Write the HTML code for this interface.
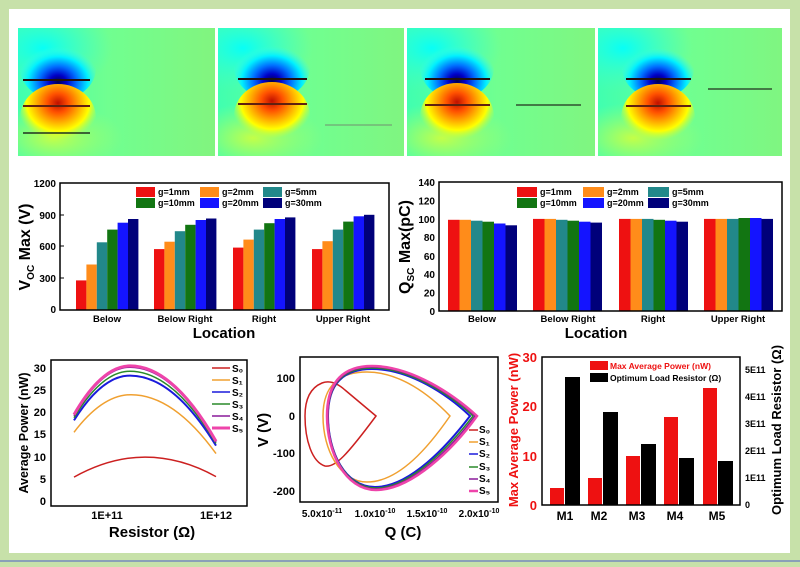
<!DOCTYPE html>
<html><head><meta charset="utf-8"><style>
html,body{margin:0;padding:0;background:#c7e1a9;}
svg{display:block;font-family:"Liberation Sans",Arial,sans-serif;font-weight:bold;}
</style></head><body>
<svg width="800" height="567" viewBox="0 0 800 567" xmlns="http://www.w3.org/2000/svg">
<defs>
<linearGradient id="bg" x1="0" y1="0" x2="1" y2="0">
<stop offset="0" stop-color="#40ffb0"/><stop offset="0.45" stop-color="#70ff90"/><stop offset="1" stop-color="#82f47e"/></linearGradient>
<radialGradient id="cy" cx="0.5" cy="0.5" r="0.5"><stop offset="0" stop-color="#00ffff" stop-opacity="0.9"/><stop offset="1" stop-color="#40ffd0" stop-opacity="0"/></radialGradient>
<radialGradient id="ye" cx="0.5" cy="0.5" r="0.5"><stop offset="0" stop-color="#e0ff30" stop-opacity="0.8"/><stop offset="1" stop-color="#b0ff60" stop-opacity="0"/></radialGradient>
<radialGradient id="bl" cx="0.5" cy="0.72" r="0.55"><stop offset="0" stop-color="#000050"/><stop offset="0.2" stop-color="#0000c8"/><stop offset="0.45" stop-color="#0070ff"/><stop offset="0.72" stop-color="#00f0ff"/><stop offset="1" stop-color="#40ffe0" stop-opacity="0"/></radialGradient>
<radialGradient id="rd" cx="0.5" cy="0.28" r="0.55"><stop offset="0" stop-color="#c01000"/><stop offset="0.25" stop-color="#ff5000"/><stop offset="0.5" stop-color="#ffa800"/><stop offset="0.75" stop-color="#ffff00"/><stop offset="1" stop-color="#c0ff40" stop-opacity="0"/></radialGradient>
<g id="hm">
<rect x="0" y="0" width="200" height="128" fill="url(#bg)"/>
<ellipse cx="25" cy="20" rx="70" ry="45" fill="url(#cy)"/>
<ellipse cx="35" cy="110" rx="70" ry="35" fill="url(#ye)"/>
</g>
</defs>
<rect x="9" y="9" width="781" height="544" fill="#ffffff"/>
<rect x="0" y="560" width="800" height="2" fill="#8aa0b8"/>

<!-- heatmaps -->
<svg x="18" y="28" width="197" height="128"><use href="#hm"/>
<ellipse cx="40" cy="40" rx="38" ry="32" fill="url(#bl)"/><ellipse cx="40" cy="90" rx="38" ry="34" fill="url(#rd)"/>
<line x1="5" y1="52" x2="72" y2="52" stroke="#201010" stroke-width="2"/><line x1="5" y1="78" x2="72" y2="78" stroke="#602010" stroke-width="2"/><line x1="5" y1="105" x2="72" y2="105" stroke="#203020" stroke-width="1.5"/></svg>
<svg x="218" y="28" width="186" height="128"><use href="#hm"/>
<ellipse cx="54" cy="39" rx="38" ry="32" fill="url(#bl)"/><ellipse cx="54" cy="88" rx="38" ry="34" fill="url(#rd)"/>
<line x1="20" y1="51" x2="89" y2="51" stroke="#201010" stroke-width="2"/><line x1="20" y1="76" x2="89" y2="76" stroke="#602010" stroke-width="2"/><line x1="107" y1="97" x2="174" y2="97" stroke="#709070" stroke-width="1"/></svg>
<svg x="407" y="28" width="188" height="128"><use href="#hm"/>
<ellipse cx="50" cy="39" rx="37" ry="32" fill="url(#bl)"/><ellipse cx="50" cy="89" rx="37" ry="34" fill="url(#rd)"/>
<line x1="18" y1="51" x2="83" y2="51" stroke="#201010" stroke-width="2"/><line x1="18" y1="77" x2="83" y2="77" stroke="#602010" stroke-width="2"/><line x1="109" y1="77" x2="174" y2="77" stroke="#305030" stroke-width="1.5"/></svg>
<svg x="598" y="28" width="184" height="128"><use href="#hm"/>
<ellipse cx="60" cy="40" rx="36" ry="30" fill="url(#bl)"/><ellipse cx="60" cy="90" rx="37" ry="34" fill="url(#rd)"/>
<line x1="28" y1="51" x2="93" y2="51" stroke="#201010" stroke-width="2"/><line x1="28" y1="78" x2="93" y2="78" stroke="#602010" stroke-width="2"/><line x1="110" y1="61" x2="174" y2="61" stroke="#305030" stroke-width="1.5"/></svg>

<!-- Voc chart -->
<g>
<g fill="#ee1111"><rect x="76" y="280.4" width="10.4" height="29.6"/><rect x="154" y="249.1" width="10.4" height="60.9"/><rect x="233" y="247.6" width="10.4" height="62.4"/><rect x="312" y="249.1" width="10.4" height="60.9"/></g>
<g fill="#ff8c1a"><rect x="86.4" y="264.5" width="10.4" height="45.5"/><rect x="164.4" y="241.7" width="10.4" height="68.3"/><rect x="243.4" y="239.6" width="10.4" height="70.4"/><rect x="322.4" y="241.2" width="10.4" height="68.8"/></g>
<g fill="#22888a"><rect x="96.8" y="242.3" width="10.4" height="67.7"/><rect x="174.8" y="231.2" width="10.4" height="78.8"/><rect x="253.8" y="229.6" width="10.4" height="80.4"/><rect x="332.8" y="229.6" width="10.4" height="80.4"/></g>
<g fill="#127512"><rect x="107.2" y="229.6" width="10.4" height="80.4"/><rect x="185.2" y="224.8" width="10.4" height="85.2"/><rect x="264.2" y="223.2" width="10.4" height="86.8"/><rect x="343.2" y="221.6" width="10.4" height="88.4"/></g>
<g fill="#1414ff"><rect x="117.6" y="222.7" width="10.4" height="87.3"/><rect x="195.6" y="220" width="10.4" height="90"/><rect x="274.6" y="219" width="10.4" height="91"/><rect x="353.6" y="216.3" width="10.4" height="93.7"/></g>
<g fill="#00007a"><rect x="128" y="219" width="10.4" height="91"/><rect x="206" y="218.5" width="10.4" height="91.5"/><rect x="285" y="217.4" width="10.4" height="92.6"/><rect x="364" y="214.8" width="10.4" height="95.2"/></g>
<rect x="60" y="183" width="329" height="127" fill="none" stroke="#000" stroke-width="1.5"/>
<g stroke="#000" stroke-width="1"><line x1="60" y1="215" x2="64" y2="215"/><line x1="60" y1="246" x2="64" y2="246"/><line x1="60" y1="278" x2="64" y2="278"/></g>
<g font-size="10" text-anchor="end"><text x="56" y="187">1200</text><text x="56" y="219">900</text><text x="56" y="250">600</text><text x="56" y="282">300</text><text x="56" y="313">0</text></g>
<g font-size="9.5" text-anchor="middle"><text x="107" y="322">Below</text><text x="185" y="322">Below Right</text><text x="264" y="322">Right</text><text x="343" y="322">Upper Right</text></g>
<text x="224" y="338" font-size="15" text-anchor="middle">Location</text>
<text transform="translate(30,247) rotate(-90)" font-size="16" text-anchor="middle">V<tspan font-size="10" dy="4">OC</tspan><tspan dy="-4"> Max (V)</tspan></text>
<g font-size="9"><rect x="136" y="187" width="19" height="10" fill="#ee1111"/><text x="158" y="195">g=1mm</text>
<rect x="200" y="187" width="19" height="10" fill="#ff8c1a"/><text x="222" y="195">g=2mm</text>
<rect x="263" y="187" width="19" height="10" fill="#22888a"/><text x="285" y="195">g=5mm</text>
<rect x="136" y="198" width="19" height="10" fill="#127512"/><text x="158" y="206">g=10mm</text>
<rect x="200" y="198" width="19" height="10" fill="#1414ff"/><text x="222" y="206">g=20mm</text>
<rect x="263" y="198" width="19" height="10" fill="#00007a"/><text x="285" y="206">g=30mm</text></g>
</g>

<!-- Qsc chart -->
<g>
<g fill="#ee1111"><rect x="448" y="219.8" width="11.5" height="91.2"/><rect x="533" y="218.9" width="11.5" height="92.1"/><rect x="619" y="218.9" width="11.5" height="92.1"/><rect x="704" y="218.9" width="11.5" height="92.1"/></g>
<g fill="#ff8c1a"><rect x="459.5" y="219.8" width="11.5" height="91.2"/><rect x="544.5" y="218.9" width="11.5" height="92.1"/><rect x="630.5" y="218.9" width="11.5" height="92.1"/><rect x="715.5" y="218.9" width="11.5" height="92.1"/></g>
<g fill="#22888a"><rect x="471" y="220.7" width="11.5" height="90.3"/><rect x="556" y="219.8" width="11.5" height="91.2"/><rect x="642" y="218.9" width="11.5" height="92.1"/><rect x="727" y="218.9" width="11.5" height="92.1"/></g>
<g fill="#127512"><rect x="482.5" y="221.7" width="11.5" height="89.3"/><rect x="567.5" y="220.7" width="11.5" height="90.3"/><rect x="653.5" y="219.8" width="11.5" height="91.2"/><rect x="738.5" y="218" width="11.5" height="93"/></g>
<g fill="#1414ff"><rect x="494" y="223.5" width="11.5" height="87.5"/><rect x="579" y="221.7" width="11.5" height="89.3"/><rect x="665" y="220.7" width="11.5" height="90.3"/><rect x="750" y="218" width="11.5" height="93"/></g>
<g fill="#00007a"><rect x="505.5" y="225.3" width="11.5" height="85.7"/><rect x="590.5" y="222.6" width="11.5" height="88.4"/><rect x="676.5" y="221.7" width="11.5" height="89.3"/><rect x="761.5" y="218.9" width="11.5" height="92.1"/></g>
<rect x="439" y="182" width="343" height="129" fill="none" stroke="#000" stroke-width="1.5"/>
<g font-size="10" text-anchor="end"><text x="435" y="186">140</text><text x="435" y="204.5">120</text><text x="435" y="223">100</text><text x="435" y="241">80</text><text x="435" y="260">60</text><text x="435" y="278">40</text><text x="435" y="296.5">20</text><text x="435" y="315">0</text></g>
<g font-size="9.5" text-anchor="middle"><text x="482" y="322">Below</text><text x="568" y="322">Below Right</text><text x="653" y="322">Right</text><text x="738" y="322">Upper Right</text></g>
<text x="596" y="338" font-size="15" text-anchor="middle">Location</text>
<text transform="translate(410,247) rotate(-90)" font-size="16" text-anchor="middle">Q<tspan font-size="10" dy="4">SC</tspan><tspan dy="-4"> Max(pC)</tspan></text>
<g font-size="9"><rect x="517" y="187" width="20" height="10" fill="#ee1111"/><text x="540" y="195">g=1mm</text>
<rect x="583" y="187" width="21" height="10" fill="#ff8c1a"/><text x="607" y="195">g=2mm</text>
<rect x="648" y="187" width="21" height="10" fill="#22888a"/><text x="672" y="195">g=5mm</text>
<rect x="517" y="198" width="20" height="10" fill="#127512"/><text x="540" y="206">g=10mm</text>
<rect x="583" y="198" width="21" height="10" fill="#1414ff"/><text x="607" y="206">g=20mm</text>
<rect x="648" y="198" width="21" height="10" fill="#00007a"/><text x="672" y="206">g=30mm</text></g>
</g>

<!-- Power chart -->
<g>
<rect x="51" y="360" width="196" height="146" fill="none" stroke="#000" stroke-width="1.5"/>
<g fill="none" stroke-width="1.5">
<path d="M74,477.1 Q110,457.1 145,457.1 Q181,457.1 216,476.6" stroke="#cc2020"/>
<path d="M74,432.3 Q102.5,394.7 131,394.7 Q173.5,394.7 216,453.6" stroke="#f0a030"/>
<path d="M74,420.4 Q102,375.6 130,375.6 Q173,375.6 216,445.6" stroke="#1a1adc" stroke-width="2"/>
<path d="M74,417.7 Q102,371.2 130,371.2 Q173,371.2 216,443.4" stroke="#2a8a2a"/>
<path d="M74,415.9 Q102,367.2 130,367.2 Q173,367.2 216,442.1" stroke="#8a1a9a"/>
<path d="M74,414.6 Q102,365.9 130,365.9 Q173,365.9 216,441.2" stroke="#ee44aa" stroke-width="3"/>
</g>
<g font-size="11" text-anchor="end"><text x="46" y="372">30</text><text x="46" y="394">25</text><text x="46" y="416">20</text><text x="46" y="438">15</text><text x="46" y="461">10</text><text x="46" y="483">5</text><text x="46" y="505">0</text></g>
<g font-size="11" text-anchor="middle"><text x="107" y="519">1E+11</text><text x="216" y="519">1E+12</text></g>
<text x="152" y="537" font-size="15" text-anchor="middle">Resistor (Ω)</text>
<text transform="translate(28,433) rotate(-90)" font-size="12.5" text-anchor="middle">Average Power (nW)</text>
<g font-size="10">
<line x1="212" y1="368" x2="230" y2="368" stroke="#cc2020" stroke-width="1.5"/><text x="232" y="372">S₀</text>
<line x1="212" y1="380" x2="230" y2="380" stroke="#f0a030" stroke-width="1.5"/><text x="232" y="384">S₁</text>
<line x1="212" y1="392" x2="230" y2="392" stroke="#1a1adc" stroke-width="1.5"/><text x="232" y="396">S₂</text>
<line x1="212" y1="404" x2="230" y2="404" stroke="#2a8a2a" stroke-width="1.5"/><text x="232" y="408">S₃</text>
<line x1="212" y1="416" x2="230" y2="416" stroke="#8a1a9a" stroke-width="1.5"/><text x="232" y="420">S₄</text>
<line x1="212" y1="428" x2="230" y2="428" stroke="#ee44aa" stroke-width="3"/><text x="232" y="432">S₅</text></g>
</g>

<!-- QV chart -->
<g>
<rect x="300" y="357" width="198" height="145" fill="none" stroke="#000" stroke-width="1.5"/>
<g fill="none" stroke-width="1.5">
<path d="M376,416 L345,390 C335,381 327,381 322,383 C310,388 305,400 305,416 C305,440 312,462 325,466 C335,468 347,455 376,416 Z" stroke="#cc2020"/>
<path d="M323,416 C323,385 340,372 367,372 C400,372 430,395 450,416 C430,445 400,482 367,482 C340,482 323,450 323,416 Z" stroke="#f0a030"/>
<path d="M328,416 C328,382 345,369 372,369 C410,369 448,395 470,416 C448,445 410,487 375,487 C345,487 328,452 328,416 Z" stroke="#1a1adc" stroke-width="2"/>
<path d="M328,416 C328,382 345,368 372,368 C410,368 450,395 473,416 C450,446 410,488 376,488 C345,488 328,452 328,416 Z" stroke="#2a8a2a"/>
<path d="M328,416 C328,381 345,367 372,367 C411,367 452,395 475,416 C452,447 411,489 376,489 C345,489 328,452 328,416 Z" stroke="#8a1a9a"/>
<path d="M327,416 C327,380 345,366 372,366 C412,366 454,395 477,416 C454,448 412,490 376,490 C345,490 327,452 327,416 Z" stroke="#ee44aa" stroke-width="2.5"/>
</g>
<g font-size="11" text-anchor="end"><text x="295" y="382">100</text><text x="295" y="420">0</text><text x="295" y="457">-100</text><text x="295" y="495">-200</text></g>
<g font-size="10" text-anchor="middle"><text x="322" y="517">5.0x10<tspan font-size="7" dy="-4">-11</tspan></text><text x="375" y="517">1.0x10<tspan font-size="7" dy="-4">-10</tspan></text><text x="427" y="517">1.5x10<tspan font-size="7" dy="-4">-10</tspan></text><text x="479" y="517">2.0x10<tspan font-size="7" dy="-4">-10</tspan></text></g>
<text x="403" y="537" font-size="15" text-anchor="middle">Q (C)</text>
<text transform="translate(268,430) rotate(-90)" font-size="15" text-anchor="middle">V (V)</text>
<g font-size="10">
<line x1="469" y1="430" x2="478" y2="430" stroke="#cc2020" stroke-width="1.5"/><text x="479" y="433">S₀</text>
<line x1="469" y1="442" x2="478" y2="442" stroke="#f0a030" stroke-width="1.5"/><text x="479" y="445">S₁</text>
<line x1="469" y1="454" x2="478" y2="454" stroke="#1a1adc" stroke-width="1.5"/><text x="479" y="457">S₂</text>
<line x1="469" y1="467" x2="478" y2="467" stroke="#2a8a2a" stroke-width="1.5"/><text x="479" y="470">S₃</text>
<line x1="469" y1="479" x2="478" y2="479" stroke="#8a1a9a" stroke-width="1.5"/><text x="479" y="482">S₄</text>
<line x1="469" y1="491" x2="478" y2="491" stroke="#ee44aa" stroke-width="2.5"/><text x="479" y="494">S₅</text></g>
</g>

<!-- M bar chart -->
<g>
<g fill="#ee1111"><rect x="550" y="488" width="14" height="17"/><rect x="588" y="478" width="14" height="27"/><rect x="626" y="456" width="14" height="49"/><rect x="664" y="417" width="14" height="88"/><rect x="703" y="388" width="14" height="117"/></g>
<g fill="#000"><rect x="565" y="377" width="15" height="128"/><rect x="603" y="412" width="15" height="93"/><rect x="641" y="444" width="15" height="61"/><rect x="679" y="458" width="15" height="47"/><rect x="718" y="461" width="15" height="44"/></g>
<rect x="542" y="357" width="198" height="148" fill="none" stroke="#000" stroke-width="1.5"/>
<g font-size="13" fill="#ee1111" text-anchor="end"><text x="537" y="362">30</text><text x="537" y="411">20</text><text x="537" y="461">10</text><text x="537" y="510">0</text></g>
<g font-size="9" text-anchor="start"><text x="745" y="373">5E11</text><text x="745" y="400">4E11</text><text x="745" y="427">3E11</text><text x="745" y="454">2E11</text><text x="745" y="481">1E11</text><text x="745" y="508">0</text></g>
<g font-size="12" text-anchor="middle"><text x="565" y="520">M1</text><text x="599" y="520">M2</text><text x="637" y="520">M3</text><text x="675" y="520">M4</text><text x="717" y="520">M5</text></g>
<text transform="translate(518,430) rotate(-90)" font-size="13" fill="#ee1111" text-anchor="middle">Max Average Power (nW)</text>
<text transform="translate(781,430) rotate(-90)" font-size="13" text-anchor="middle">Optimum Load Resistor (Ω)</text>
<rect x="590" y="361" width="18" height="9" fill="#ee1111"/><text x="610" y="369" font-size="8.5" fill="#ee1111">Max Average Power (nW)</text>
<rect x="590" y="373" width="18" height="9" fill="#000"/><text x="610" y="381" font-size="8.5">Optimum Load Resistor (Ω)</text>
</g>
</svg>
</body></html>
